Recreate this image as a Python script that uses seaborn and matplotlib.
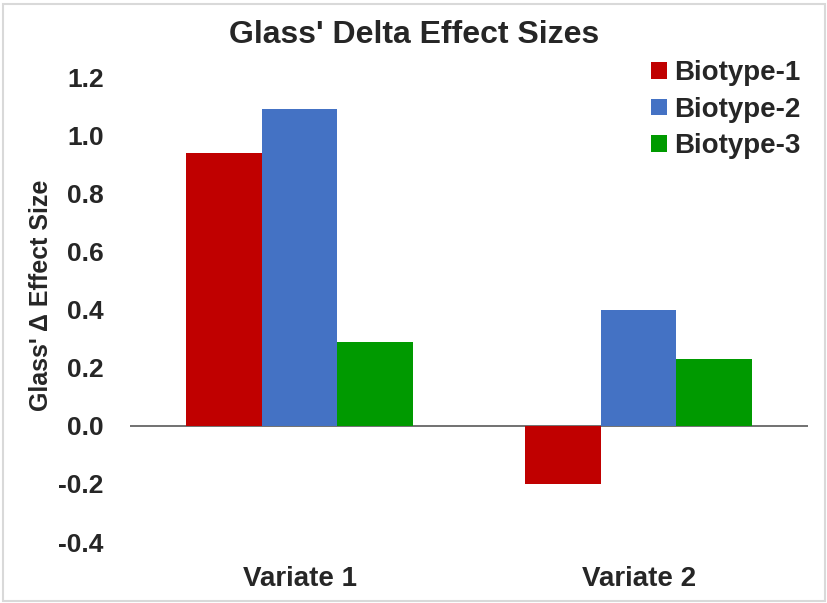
import pandas as pd
import numpy as np
import matplotlib.pyplot as plt
import seaborn as sns
from matplotlib.patches import Rectangle

# data
variates = ['Variate 1', 'Variate 2']
biotypes = ['Biotype-1', 'Biotype-2', 'Biotype-3']
biotype1 = [0.94, -0.20]
biotype2 = [1.09, 0.40]
biotype3 = [0.29, 0.23]
yticks = [-0.4, -0.2, 0.0, 0.2, 0.4, 0.6, 0.8, 1.0, 1.2]

colors = ['#C00000', '#4472C4', '#009A00']

df = pd.DataFrame({
    'Variate': variates * 3,
    'Biotype': [b for b in biotypes for _ in variates],
    'Effect': biotype1 + biotype2 + biotype3,
})

sns.set_style("white")
plt.rcParams['font.family'] = ['Liberation Sans', 'DejaVu Sans']
plt.rcParams['font.weight'] = 'bold'

fig = plt.figure(figsize=(8.28, 6.03), dpi=100)
ax = fig.add_axes([0.157, 0.101, 0.819, 0.771])

sns.barplot(data=df, x='Variate', y='Effect', hue='Biotype', order=variates,
            hue_order=biotypes, palette=colors, saturation=1, width=0.67,
            errorbar=None, linewidth=0, ax=ax)

ax.axhline(0, color='#595959', lw=1.2, zorder=0)
ax.set_xlim(-0.5, 1.5)
ax.set_ylim(-0.4, 1.2)
ax.set_yticks(yticks)
ax.set_yticklabels([f"{v:.1f}" for v in yticks], fontsize=19, fontweight='bold')
ax.tick_params(axis='y', length=0, pad=19)
ax.tick_params(axis='x', length=0, pad=17, labelsize=20)
for lab in ax.get_xticklabels():
    lab.set_fontweight('bold')
for s in ax.spines.values():
    s.set_visible(False)

ax.set_xlabel('')
ax.set_ylabel("Glass' \u0394 Effect Size", fontsize=18, fontweight='bold')
ax.yaxis.set_label_coords(-0.114, 0.53)

fig.text(0.5, 0.942, "Glass' Delta Effect Sizes", ha='center', va='center',
         fontsize=23, fontweight='bold')

leg = ax.legend(loc='upper right', bbox_to_anchor=(1.025, 1.09), frameon=False,
                fontsize=20, handlelength=0.55, handleheight=0.55,
                handletextpad=0.25, labelspacing=0.38)
for t in leg.get_texts():
    t.set_fontweight('bold')

fig.patches.append(Rectangle((0.004, 0.004), 0.992, 0.99, transform=fig.transFigure,
                             fill=False, edgecolor='#d9d9d9', lw=1.5))

fig.savefig('out.png', dpi=100)
